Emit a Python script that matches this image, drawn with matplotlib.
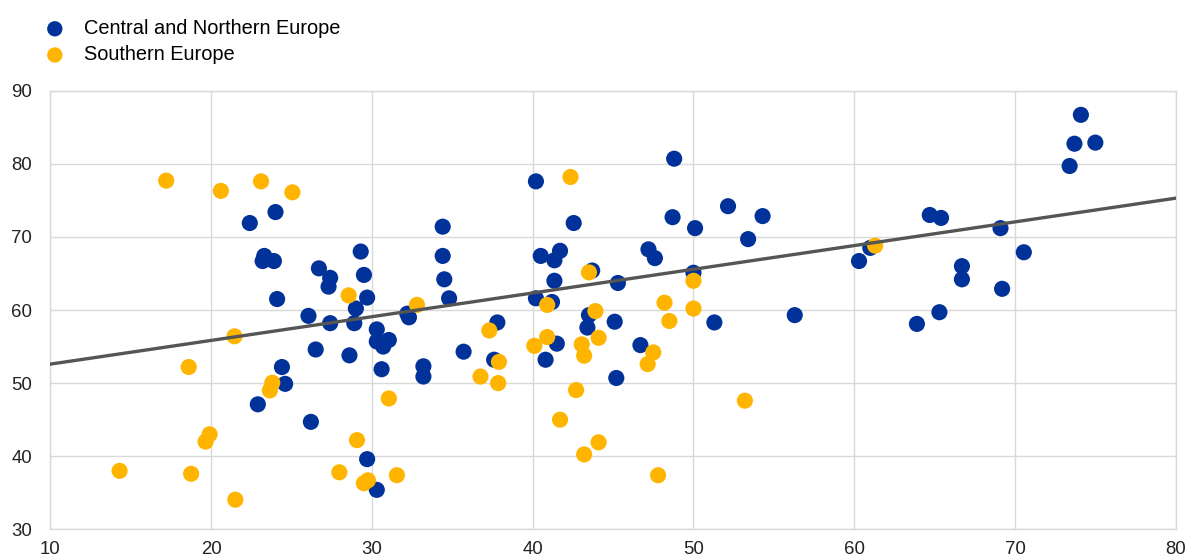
import matplotlib
matplotlib.use("Agg")
import matplotlib.pyplot as plt

plt.rcParams["font.family"] = ["Liberation Sans", "DejaVu Sans"]

# Central and Northern Europe
north_x = [22.4, 24.0, 23.3, 23.2, 23.9, 24.1, 24.4, 24.6, 22.9,
           26.7, 27.4, 27.3, 26.05, 27.4, 26.5, 26.2,
           29.3, 29.5, 29.7, 29.0, 28.9, 28.6, 30.3, 30.3, 30.7, 31.05, 30.6,
           29.7, 30.3, 32.2, 32.3, 33.2, 33.2,
           34.4, 34.4, 34.5, 34.8, 35.7, 37.8, 37.6,
           40.2, 42.55, 40.5, 41.7, 41.35, 41.35, 40.2, 41.2, 41.5, 40.8,
           48.8, 43.7, 45.3, 47.2, 47.6, 48.7, 50.1, 50.0, 52.15, 54.3, 53.4,
           56.3, 51.3, 45.1, 43.5, 43.4, 46.7, 45.2,
           74.1, 73.7, 75.0, 73.4, 64.7, 65.4, 69.1, 61.0, 60.3, 70.55,
           66.7, 66.7, 69.2, 65.3, 63.9]
north_y = [71.9, 73.4, 67.4, 66.7, 66.7, 61.5, 52.2, 49.9, 47.1,
           65.7, 64.4, 63.2, 59.2, 58.2, 54.6, 44.7,
           68.0, 64.8, 61.7, 60.2, 58.2, 53.8, 57.35, 55.7, 55.0, 55.9, 51.9,
           39.6, 35.4, 59.5, 59.0, 52.3, 50.9,
           71.4, 67.4, 64.2, 61.6, 54.3, 58.3, 53.2,
           77.6, 71.9, 67.4, 68.1, 66.8, 64.0, 61.6, 61.1, 55.4, 53.2,
           80.7, 65.4, 63.7, 68.3, 67.1, 72.7, 71.2, 65.1, 74.2, 72.85, 69.7,
           59.3, 58.3, 58.4, 59.3, 57.6, 55.2, 50.7,
           86.7, 82.75, 82.9, 79.7, 73.0, 72.6, 71.2, 68.5, 66.7, 67.9,
           66.0, 64.2, 62.9, 59.7, 58.1]

# Southern Europe
south_x = [17.2, 20.6, 23.1, 25.05, 21.45, 18.6, 23.8, 23.65, 19.9, 19.65,
           14.3, 18.75, 21.5,
           42.35, 28.55, 32.8, 37.3, 40.9, 40.9, 40.1, 37.9, 36.75, 37.85,
           31.05, 41.7, 29.07, 27.97, 29.5, 29.75, 31.55,
           43.5, 50.0, 48.2, 48.5, 50.0, 43.9, 44.1, 43.05, 43.2, 47.5, 47.15,
           42.7, 53.2, 44.1, 43.2, 47.8, 61.3]
south_y = [77.7, 76.3, 77.6, 76.1, 56.4, 52.2, 50.05, 49.0, 43.0, 42.0,
           38.0, 37.6, 34.05,
           78.2, 62.0, 60.7, 57.2, 60.7, 56.3, 55.1, 52.9, 50.9, 50.0,
           47.9, 45.0, 42.2, 37.8, 36.3, 36.7, 37.4,
           65.15, 64.0, 61.0, 58.5, 60.2, 59.85, 56.2, 55.3, 53.75, 54.2, 52.6,
           49.05, 47.6, 41.9, 40.25, 37.4, 68.8]

# linear trend
trend_x = [10, 80]
trend_y = [52.6, 75.3]

x_ticks = [10, 20, 30, 40, 50, 60, 70, 80]
y_ticks = [30, 40, 50, 60, 70, 80, 90]

blue = "#003299"
yellow = "#FFB400"

fig = plt.figure(figsize=(11.9, 5.6), dpi=100)
ax = fig.add_axes([0.0424, 0.0548, 0.9456, 0.7832])

ax.scatter(north_x, north_y, s=135, color=blue, edgecolors="none", zorder=3,
           label="Central and Northern Europe")
ax.scatter(south_x, south_y, s=135, color=yellow, edgecolors="none", zorder=4,
           label="Southern Europe")
ax.plot(trend_x, trend_y, color="#555555", linewidth=2.4, zorder=5)

ax.set_xlim(10, 80)
ax.set_ylim(30, 90)
ax.set_xticks(x_ticks)
ax.set_yticks(y_ticks)
ax.grid(True, color="#d9d9d9", linewidth=1)
ax.set_axisbelow(True)
for sp in ax.spines.values():
    sp.set_color("#d9d9d9")
    sp.set_linewidth(1)
ax.tick_params(length=0, labelsize=13.4, colors="#222222")
ax.tick_params(axis="x", pad=8.5)
ax.tick_params(axis="y", pad=13.3)

fig.legend(loc="upper left", bbox_to_anchor=(0.0385, 0.966), frameon=False,
           fontsize=14.4, handlelength=0.9, handletextpad=1.0,
           labelspacing=0.36, borderpad=0, borderaxespad=0,
           scatterpoints=1, markerscale=0.95)

fig.savefig("out.png", dpi=100)
